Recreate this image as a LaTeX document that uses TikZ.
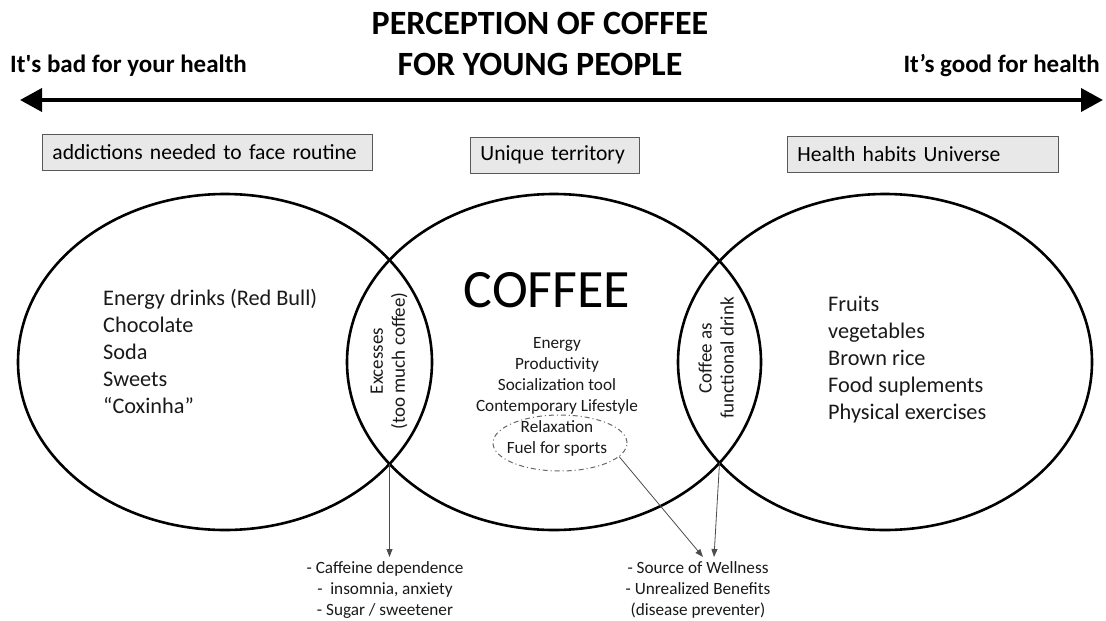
\documentclass[tikz,border=0pt]{standalone}
\usepackage{fontspec}
\setmainfont{Carlito}[Ligatures=TeXOff]
\usetikzlibrary{shapes.geometric,arrows.meta}

\begin{document}
\begin{tikzpicture}[x=1pt,y=-1pt,
  set/.style={draw=black, line width=2.6pt, ellipse, minimum width=414pt,
    minimum height=336pt, inner sep=0pt},
  tagbox/.style={draw=black!65, fill=black!9, line width=0.9pt, anchor=north west,
    minimum height=36pt, inner xsep=10pt, inner ysep=0pt, text width=#1,
    align=left, font=\fontsize{21.6}{25}\selectfont},
  listtext/.style={inner sep=0pt, text=black!90, font=\fontsize{22.3}{27}\selectfont},
  smalltext/.style={inner sep=0pt, text=black!90, align=center, font=\fontsize{17.2}{21}\selectfont},
  lenstext/.style={inner sep=0pt, rotate=90, align=center, text=black!90,
    font=\fontsize{19}{22}\selectfont},
  pointer/.style={draw=black!70, line width=0.8pt, -{Triangle[length=8pt,width=6pt]}},
  sidelabel/.style={inner sep=0pt, font=\bfseries\fontsize{25}{30}\selectfont}
]
\useasboundingbox (0,0) rectangle (1106,621);

% title and the bad/good axis
\node[inner sep=0pt, anchor=north, align=center, font=\bfseries\fontsize{34}{41}\selectfont]
  (title) at (540,12) {PERCEPTION OF COFFEE\\FOR YOUNG PEOPLE};
\node[sidelabel, anchor=base west] (bad) at (10,72) {It's bad for your health};
\node[sidelabel, anchor=base east] (good) at (1100,72) {It’s good for health};
\coordinate (axisL) at (20,100);
\coordinate (axisR) at (1103,100);
\draw[line width=3.8pt, {Triangle[length=22pt,width=23pt]}-{Triangle[length=22pt,width=23pt]}]
  (axisL) -- (axisR);

% category tags
\node[tagbox=310pt] (tagL) at (42,134) {addictions needed to face routine};
\node[tagbox=149pt] (tagM) at (470,136.5) {Unique territory};
\node[tagbox=251pt] (tagR) at (787,136) {Health habits Universe};

% the three sets
\node[set] (left) at (225,362) {};
\node[set] (mid) at (554,362) {};
\node[set] (right) at (885,362) {};

% lower crossing points of the sets
\coordinate (crossL) at (389.5,464);
\coordinate (crossR) at (719.5,463);

% set contents
\node[listtext, anchor=north west, align=left] (badlist) at (103,289)
  {Energy drinks (Red Bull)\\Chocolate\\Soda\\Sweets\\“Coxinha”};
\node[listtext, anchor=north west, align=left] (goodlist) at (828,296)
  {Fruits\\vegetables\\Brown rice\\Food suplements\\Physical exercises};
\node[inner sep=0pt, anchor=base, font=\fontsize{54}{60}\selectfont] (coffee) at (547,307) {COFFEE};
\node[smalltext, anchor=north] (coffeelist) at (557,337)
  {Energy\\Productivity\\Socialization tool\\Contemporary Lifestyle\\Relaxation\\Fuel for sports};
\node[ellipse, draw=black!60, line width=1pt, dash pattern=on 5pt off 3pt on 1pt off 3pt,
  minimum width=134pt, minimum height=56pt, inner sep=0pt] (sport) at (560,443) {};

% overlap labels
\node[lenstext] (excess) at (389,361) {Excesses\\(too much coffee)};
\node[lenstext] (functional) at (716,358) {Coffee as\\functional drink};

% consequences
\node[smalltext, anchor=north] (badfx) at (385,561)
  {- Caffeine dependence\\-\ \ insomnia, anxiety\\- Sugar / sweetener};
\node[smalltext, anchor=north] (goodfx) at (698,561)
  {- Source of Wellness\\- Unrealized Benefits\\(disease preventer)};

\coordinate (badtip) at (389.5,557);
\coordinate (goodtip) at (714,557);
\coordinate (sporttip) at (703,557);
\draw[pointer] (crossL) -- (badtip);
\draw[pointer] (crossR) -- (goodtip);
\draw[pointer] (sport.-13) -- (sporttip);
\end{tikzpicture}
\end{document}
